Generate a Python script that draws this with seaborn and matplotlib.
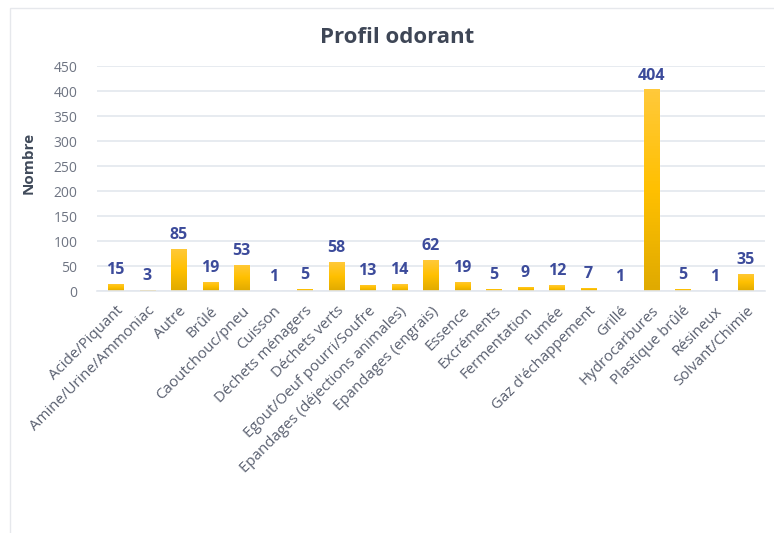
import numpy as np
import pandas as pd
import matplotlib
matplotlib.use("Agg")
import matplotlib.pyplot as plt
from matplotlib.colors import LinearSegmentedColormap
from matplotlib.patches import Rectangle
import seaborn as sns

categories = [
    "Acide/Piquant", "Amine/Urine/Ammoniac", "Autre", "Brûlé", "Caoutchouc/pneu",
    "Cuisson", "Déchets ménagers", "Déchets verts", "Egout/Oeuf pourri/Soufre",
    "Epandages (déjections animales)", "Epandages (engrais)", "Essence", "Excréments",
    "Fermentation", "Fumée", "Gaz d'échappement", "Grillé", "Hydrocarbures",
    "Plastique brûlé", "Résineux", "Solvant/Chimie",
]
counts = [15, 3, 85, 19, 53, 1, 5, 58, 13, 14, 62, 19, 5, 9, 12, 7, 1, 404, 5, 1, 35]

df = pd.DataFrame({"odeur": categories, "nombre": counts})

sns.set_theme(style="white")
plt.rcParams["font.family"] = ["Open Sans", "DejaVu Sans"]

fig = plt.figure(figsize=(7.74, 5.33), dpi=100)
ax = fig.add_axes([0.125, 0.454, 0.863, 0.422])

sns.barplot(data=df, x="odeur", y="nombre", color="#FFC000", width=0.48,
            saturation=1, ax=ax)

# vertical gradient on each bar
grad = LinearSegmentedColormap.from_list("g", ["#E0AA00", "#FFC000", "#FFC93A"])
for p in ax.patches:
    x0, y0 = p.get_x(), p.get_y()
    w, h = p.get_width(), p.get_height()
    if h <= 0:
        continue
    im = ax.imshow(np.linspace(0, 1, 64).reshape(-1, 1), cmap=grad, origin="lower",
                   extent=[x0, x0 + w, y0, y0 + h], aspect="auto", zorder=p.get_zorder() + 0.1)
    im.set_clip_path(p)

for i, v in enumerate(counts):
    ax.annotate(str(v), (i, v), xytext=(0, 4), textcoords="offset points",
                ha="center", va="bottom", fontsize=11.5, fontweight="bold", color="#3C4B9B")

ax.set_xlim(-0.6, len(categories) - 0.4)
ax.set_ylim(0, 450)
ax.set_yticks(range(0, 451, 50))
ax.yaxis.grid(True, color="#E3E7EE", linewidth=1.2)
ax.set_axisbelow(True)
for s in ["top", "right", "left"]:
    ax.spines[s].set_visible(False)
ax.spines["bottom"].set_color("#E3E7EE")
ax.spines["bottom"].set_linewidth(1.2)
ax.tick_params(axis="y", length=0, labelsize=10, labelcolor="#6E7482", pad=14)
ax.tick_params(axis="x", length=0, labelsize=10.8, labelcolor="#5A6070", pad=9)
plt.setp(ax.get_xticklabels(), rotation=45, ha="right", rotation_mode="anchor")
ax.set_xlabel("")
ax.set_ylabel("Nombre", fontsize=11, fontweight="bold", color="#404A5A")
ax.yaxis.set_label_coords(-0.091, 0.57)

fig.text(0.513, 0.93, "Profil odorant", ha="center", va="center",
         fontsize=16, fontweight="bold", color="#3E4656")

fig.patches.append(Rectangle((10 / 774, -0.05), 1.2, 1 - 8 / 533 + 0.05,
                             transform=fig.transFigure, fill=False,
                             edgecolor="#E6E8EC", linewidth=1))

fig.savefig("out.png", dpi=100)
